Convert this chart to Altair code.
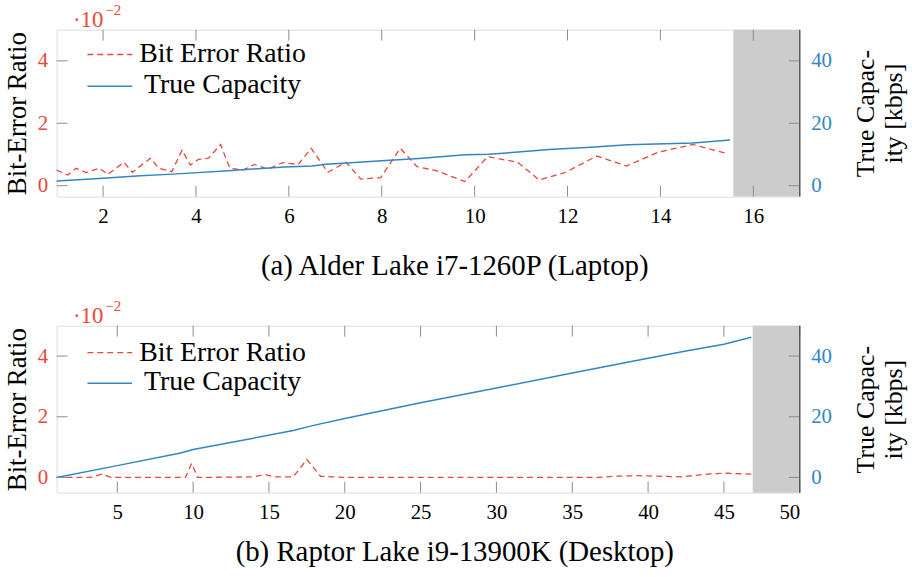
import altair as alt
import pandas as pd

# ---------------- data ----------------
# (a) Alder Lake i7-1260P (Laptop)
a_ber_x = [1.0, 1.24, 1.42, 1.63, 1.92, 2.1, 2.45, 2.63, 3.02, 3.2, 3.48, 3.7, 3.88, 4.05, 4.27,
           4.53, 4.73, 5.01, 5.26, 5.55, 5.87, 6.2, 6.48, 6.84, 7.23, 7.55, 7.98, 8.4, 8.76, 9.18,
           9.79, 10.28, 10.93, 11.39, 11.96, 12.63, 13.27, 13.95, 14.7, 15.4]
a_ber_y = [0.5, 0.34, 0.56, 0.42, 0.56, 0.36, 0.75, 0.43, 0.88, 0.56, 0.45, 1.14, 0.66, 0.84, 0.88,
           1.32, 0.56, 0.5, 0.68, 0.53, 0.74, 0.68, 1.2, 0.43, 0.75, 0.21, 0.26, 1.2, 0.61, 0.48,
           0.13, 0.93, 0.75, 0.18, 0.43, 0.95, 0.63, 1.07, 1.32, 1.04]
a_cap_x = [1.0, 2.0, 2.8, 3.5, 4.7, 5.9, 6.5, 6.8, 7.25, 8.0, 8.8, 9.8, 10.3, 10.8, 11.6, 12.5,
           13.3, 14.7, 15.5]
a_cap_y = [1.5, 2.4, 3.2, 3.7, 4.8, 6.0, 6.3, 6.9, 7.3, 8.0, 8.7, 9.9, 10.1, 10.6, 11.6, 12.3,
           13.1, 13.7, 14.6]
a_x_ticks = [2, 4, 6, 8, 10, 12, 14, 16]
a_x_domain = [1, 17]
a_shade_start = 15.57
a_caption = "(a) Alder Lake i7-1260P (Laptop)"

# (b) Raptor Lake i9-13900K (Desktop)
b_ber_x = [1, 3.2, 4.0, 4.6, 9.5, 9.9, 10.3, 14.0, 14.7, 15.3, 16.6, 17.5, 18.4, 20.1, 35.0,
           36.7, 37.8, 39.3, 42.2, 44.1, 45.0, 46.9]
b_ber_y = [0, 0, 0.11, 0, 0, 0.46, 0, 0.02, 0.1, 0.02, 0.02, 0.59, 0.04, 0, 0,
           0, 0.04, 0.06, 0.02, 0.12, 0.14, 0.11]
b_cap_x = [1, 5, 9.1, 10, 13, 16.6, 17.8, 20, 25, 30, 35, 40, 42.5, 45, 46.8]
b_cap_y = [0, 3.9, 8.0, 9.2, 12.0, 15.5, 17.0, 19.4, 24.6, 29.5, 34.4, 39.3, 41.7, 43.9, 46.2]
b_x_ticks = [5, 10, 15, 20, 25, 30, 35, 40, 45, 50]
b_x_domain = [1, 50]
b_shade_start = 46.9
b_caption = "(b) Raptor Lake i9-13900K (Desktop)"

ber_ticks = [0, 2, 4]
cap_ticks = [0, 20, 40]
series_names = ["Bit Error Ratio", "True Capacity"]

# ---------------- style ----------------
FONT = "Liberation Serif"
RED = "#E8473A"
BLUE = "#3286C3"
GRAY = "#CCCCCC"
FRAME = "#505050"
TICK = "#8C8C8C"
W = 748
H = 168


def panel(ber_x, ber_y, cap_x, cap_y, x_domain, x_ticks, ber_domain, cap_domain,
          shade_start, caption, leg_y, cap_offset):
    xs = alt.Scale(domain=x_domain, nice=False, zero=False)
    bs = alt.Scale(domain=ber_domain, nice=False, zero=False)
    cs = alt.Scale(domain=cap_domain, nice=False, zero=False)
    xaxis = alt.Axis(values=x_ticks, title=None, ticks=False, domain=False, grid=False,
                     labelFont=FONT, labelFontSize=21, labelColor="black", labelPadding=9,
                     format="d")
    one = alt.Data(values=[{}])

    shade = alt.Chart(alt.Data(values=[{"s": shade_start, "e": x_domain[1]}])).mark_rect(
        color=GRAY).encode(
        x=alt.X("s:Q", scale=xs, axis=xaxis), x2="e:Q",
        y=alt.value(0), y2=alt.value(H))

    ber = alt.Chart(pd.DataFrame({"x": ber_x, "y": ber_y})).mark_line(
        color=RED, strokeDash=[6, 4], strokeWidth=1.3).encode(
        x=alt.X("x:Q", scale=xs, axis=xaxis),
        y=alt.Y("y:Q", scale=bs, axis=alt.Axis(
            values=ber_ticks, format="d", title="Bit-Error Ratio", orient="left",
            titleFont=FONT, titleFontSize=27, titleFontWeight="normal", titleColor="black",
            titlePadding=6, labelFont=FONT, labelFontSize=21, labelColor=RED,
            labelPadding=9, ticks=False, domain=False, grid=False)))

    cap = alt.Chart(pd.DataFrame({"x": cap_x, "y": cap_y})).mark_line(
        color=BLUE, strokeWidth=1.5).encode(
        x=alt.X("x:Q", scale=xs, axis=xaxis),
        y=alt.Y("y:Q", scale=cs, axis=alt.Axis(
            values=cap_ticks, format="d", title=["True Capac-", "ity [kbps]"], orient="right",
            titleFont=FONT, titleFontSize=26, titleFontWeight="normal", titleColor="black",
            titleAngle=270, titleLineHeight=28, titlePadding=19,
            labelFont=FONT, labelFontSize=21, labelColor=BLUE,
            labelPadding=11, ticks=False, domain=False, grid=False)))

    xt = alt.Chart(pd.DataFrame({"t": x_ticks}))
    xt_top = xt.mark_rule(color=TICK, strokeWidth=1).encode(
        x=alt.X("t:Q", scale=xs, axis=xaxis), y=alt.value(0), y2=alt.value(11))
    xt_bot = xt.mark_rule(color=TICK, strokeWidth=1).encode(
        x=alt.X("t:Q", scale=xs, axis=xaxis), y=alt.value(H - 11), y2=alt.value(H))
    yt_left = alt.Chart(pd.DataFrame({"t": ber_ticks})).mark_rule(
        color=TICK, strokeWidth=1).encode(
        y=alt.Y("t:Q", scale=bs, axis=None), x=alt.value(0), x2=alt.value(11))
    yt_right = alt.Chart(pd.DataFrame({"t": cap_ticks})).mark_rule(
        color=TICK, strokeWidth=1).encode(
        y=alt.Y("t:Q", scale=cs, axis=None), x=alt.value(W - 11), x2=alt.value(W))

    right_edge = alt.Chart(one).mark_rule(color=FRAME, strokeWidth=1.3).encode(
        x=alt.value(W), y=alt.value(0), y2=alt.value(H))

    # legend
    leg_l1 = alt.Chart(one).mark_rule(color=RED, strokeDash=[6, 4], strokeWidth=1.3).encode(
        x=alt.value(31), x2=alt.value(76), y=alt.value(leg_y[0]))
    leg_l2 = alt.Chart(one).mark_rule(color=BLUE, strokeWidth=1.5).encode(
        x=alt.value(31), x2=alt.value(76), y=alt.value(leg_y[1]))
    leg_t1 = alt.Chart(one).mark_text(text=series_names[0], font=FONT, fontSize=28,
                                      align="center", baseline="alphabetic",
                                      color="black").encode(
        x=alt.value(167), y=alt.value(leg_y[0] + 8))
    leg_t2 = alt.Chart(one).mark_text(text=series_names[1], font=FONT, fontSize=28,
                                      align="center", baseline="alphabetic",
                                      color="black").encode(
        x=alt.value(167), y=alt.value(leg_y[1] + 7))

    # axis multiplier  ·10^-2
    exp1 = alt.Chart(one).mark_text(text="·10", font=FONT, fontSize=23, align="right",
                                    baseline="alphabetic", color=RED).encode(
        x=alt.value(47), y=alt.value(-3))
    exp2 = alt.Chart(one).mark_text(text="−2", font=FONT, fontSize=15, align="left",
                                    baseline="alphabetic", color=RED).encode(
        x=alt.value(49), y=alt.value(-15))

    return alt.layer(
        shade, ber, cap, xt_top, xt_bot, yt_left, yt_right, right_edge,
        leg_l1, leg_l2, leg_t1, leg_t2, exp1, exp2
    ).resolve_scale(y="independent").properties(
        width=W, height=H,
        title=alt.TitleParams(text=caption, orient="bottom", anchor="middle", frame="bounds",
                              font=FONT, fontSize=29, fontWeight="normal", color="black",
                              offset=cap_offset))


top = panel(a_ber_x, a_ber_y, a_cap_x, a_cap_y, a_x_domain, a_x_ticks, [-0.35, 5], [-3.5, 50],
            a_shade_start, a_caption, [25, 57], 26)
bottom = panel(b_ber_x, b_ber_y, b_cap_x, b_cap_y, b_x_domain, b_x_ticks, [-0.5, 5], [-5, 50],
               b_shade_start, b_caption, [27, 58], 16)

chart = alt.vconcat(top, bottom, spacing=16).resolve_scale(
    x="independent", y="independent"
).configure_view(stroke=FRAME, strokeWidth=1.3).configure(
    font=FONT, background="white"
).properties(padding={"left": 2, "top": 0, "right": 5, "bottom": 0})

chart.save("out.html", embed_options={"renderer": "svg", "actions": False})
